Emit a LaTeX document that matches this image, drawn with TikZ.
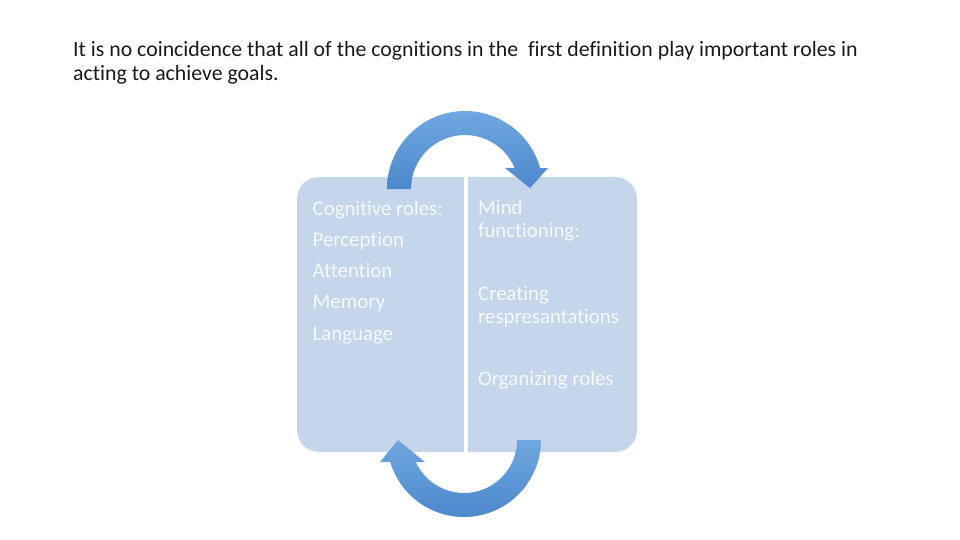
\documentclass[tikz,border=0pt]{standalone}
\usepackage{fontspec}
\setmainfont[Ligatures={NoCommon,NoContextual,NoRequired}]{Carlito}
\definecolor{boxfill}{HTML}{C5D5EA}
\definecolor{boxtext}{HTML}{F6F9FC}
\definecolor{arrowtop}{HTML}{6FA7DF}
\definecolor{arrowbot}{HTML}{4C88CD}
\tikzset{
  title/.style={anchor=base west, font=\fontsize{21.8}{26}\selectfont, text=black!90, inner sep=0pt},
  item/.style={anchor=base west, font=\fontsize{20.8}{24}\selectfont, text=boxtext, inner sep=0pt},
  arrowshape/.style={top color=arrowtop, bottom color=arrowbot, draw=none},
}
\begin{document}
\begin{tikzpicture}[x=1pt,y=-1pt]
\useasboundingbox (0,0) rectangle (960,540);
% title
\node[title] (t1) at (73,57) {It is no coincidence that all of the cognitions in the\ \ first definition play important roles in};
\node[title] (t2) at (73,81) {acting to achieve goals.};
% boxes
\fill[boxfill, rounded corners=22pt] (297,177) rectangle (637,452);
\fill[white] (464,177) rectangle (468,452);
% left column
\node[item] (l1) at (312.5,215) {Cognitive roles:};
\node[item] (l2) at (312.5,246) {Perception};
\node[item] (l3) at (312.5,277) {Attention};
\node[item] (l4) at (312.5,308) {Memory};
\node[item] (l5) at (312.5,340) {Language};
% right column
\node[item] (r1) at (478,214) {Mind};
\node[item] (r2) at (478,237) {functioning:};
\node[item] (r3) at (478,300) {Creating};
\node[item] (r4) at (478,323) {respresantations};
\node[item] (r5) at (478,385) {Organizing roles};
% top circular arrow
\path[arrowshape] (387,189) arc[start angle=180,end angle=344.4,radius=78]
  -- (548,168) -- (530,188) -- (505,168) -- (514.7,168)
  arc[start angle=337.1,end angle=180,radius=54] -- cycle;
% bottom circular arrow
\path[arrowshape] (541,440) arc[start angle=0,end angle=163.4,radius=77]
  -- (380,462) -- (398,440) -- (425,462) -- (415.8,462)
  arc[start angle=155.5,end angle=0,radius=53] -- cycle;
\end{tikzpicture}
\end{document}
